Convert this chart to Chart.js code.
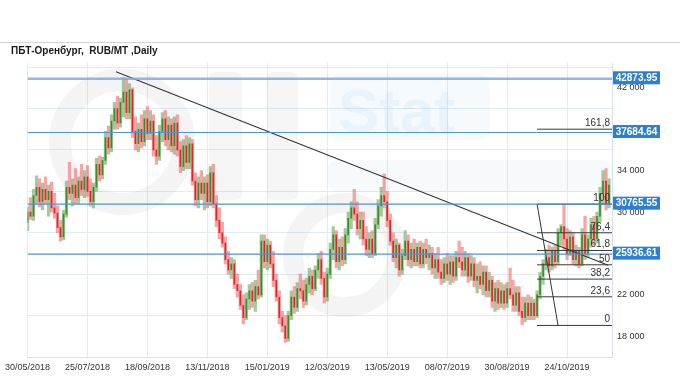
<!DOCTYPE html>
<html><head><meta charset="utf-8">
<script src="https://cdn.jsdelivr.net/npm/chart.js@4.4.1/dist/chart.umd.min.js"></script>
<style>html,body{margin:0;padding:0;background:#fff}#wrap{width:680px;height:380px;position:relative}</style>
</head><body><div id="wrap"><canvas id="c" width="680" height="380"></canvas></div>
<script>
// ---------- data ----------
const chartTitle = 'ПБТ-Оренбург,  RUB/MT ,Daily';
const tickLabels = ['30/05/2018','25/07/2018','18/09/2018','13/11/2018','15/01/2019','12/03/2019','13/05/2019','08/07/2019','30/08/2019','24/10/2019'];
const tickEvery = 20;      // candles between date labels
const lastSlot = 195;      // right edge of the axis, in candle slots
const yMin = 16000, yMax = 44400, yGridStep = 4000, yLabelFirst = 18000;

const openP = [
 29000,30000,29600,31600,32400,31000,32200,31200,32000,30400,
 29900,28500,27600,29800,32400,31800,32600,31400,33000,32200,
 33400,32000,31000,32400,34600,33600,35000,37200,36200,38800,
 40000,38600,40600,41600,39600,41800,37800,36600,38000,36800,
 39000,37600,38800,36000,35400,37800,39000,37000,38400,36400,
 38600,36000,34400,36400,34800,36600,33000,31200,32800,31800,
 32800,31000,33800,30800,29200,28000,27000,25400,24400,25000,
 23000,22400,21000,19800,21600,22400,21400,22800,22000,27200,
 25200,26800,25000,23400,21800,19800,19000,17800,20000,21800,
 20800,22600,22400,21400,23000,23800,22600,24400,25400,23600,
 21800,24000,26400,27800,25200,26600,25400,27800,29400,30400,
 29800,28400,29200,27400,26400,27400,26000,28800,30600,31600,
 31000,29200,27200,25600,26800,24400,25800,27200,25400,26400,
 25200,26600,25000,26400,25600,26000,24600,25400,24200,23600,
 25000,24000,25200,23800,25600,25200,24400,25600,23800,25000,
 23400,23800,23000,24200,22400,23400,21400,22600,21200,22400,
 21200,22600,22000,21000,22200,20400,19800,21200,20000,21200,
 20000,22000,23800,25000,25600,24800,26200,25200,28000,28600,
 27400,26000,27600,25400,26200,25000,27800,26000,27400,28800,
 27400,29600,31800,33000,30800];
const highP = [
 30500,31400,32200,33500,33200,32800,33400,32600,32900,31800,
 30600,29200,30200,33000,34800,33200,34200,33400,34600,34000,
 34500,33200,32800,35200,35400,35300,37800,38300,39400,40600,
 41200,41000,43000,42900,42400,42000,39200,38600,39400,39800,
 40200,39800,39400,37400,38400,39600,39800,39200,39000,39200,
 39400,36800,37000,37400,37200,37000,33800,33400,34000,33400,
 33600,34400,34600,31600,30400,29000,27600,26200,25600,25400,
 24000,23000,22000,22200,23000,23200,23400,24400,27800,27800,
 27400,27200,26200,24000,22400,20400,20000,20400,22400,22800,
 23200,24000,23400,23600,24600,24400,24800,26000,26200,24200,
 24600,27000,28600,28200,27400,27600,28400,30000,31000,32200,
 31000,30000,30000,28600,28000,28200,29400,31200,32400,33700,
 32000,29800,28000,27400,27000,26400,28200,27800,27000,27400,
 27000,27200,27000,27400,26800,26600,26000,26600,25400,25600,
 26000,25800,25800,26200,27200,26600,26200,26000,25800,25600,
 25000,25200,24800,24800,24200,23800,23200,23400,23200,23000,
 23200,24600,23400,22800,22800,21800,21800,22000,21800,21600,
 22400,24200,25400,26400,26800,26600,26800,28400,28800,30700,
 28400,28200,28000,26800,26600,28400,29600,27800,29400,29600,
 30000,32400,34000,34200,33200];
const lowP = [
 28200,29300,29200,30800,30500,30200,30800,29600,30000,29400,
 28000,27200,27300,29500,31200,30600,30800,30800,31600,31400,
 31500,30600,30400,32000,33000,33200,34600,35600,35800,38000,
 38000,38200,39200,39000,39000,37200,36000,35800,36200,36400,
 37000,37000,35400,34600,35000,36800,36400,36000,35800,35600,
 35400,33800,34000,34200,34200,32600,30600,30400,31200,30200,
 30400,30600,30400,28600,27400,26600,25000,24000,23600,22600,
 21800,20600,19200,19600,20600,20800,20400,21600,21800,24600,
 24400,24600,22800,21400,19200,18400,17400,17500,19600,20200,
 20400,21600,20800,21000,22200,22000,22400,23600,23000,21200,
 21400,23600,25400,24600,24400,24800,25000,27000,28400,29200,
 27800,27400,26800,25800,25600,25600,25800,28400,29600,30400,
 28600,26800,25200,24600,23800,24000,25400,24800,24600,24800,
 24800,24600,24600,25000,24400,24000,23600,23600,23000,23200,
 23400,23000,23200,23400,24600,23800,23800,23200,23400,22800,
 22200,22600,22000,21800,21800,20800,20400,20600,20800,20600,
 20800,21600,20400,20400,20000,19100,19400,19600,19600,19600,
 19800,21600,23000,24400,24200,24400,24600,25000,26800,26400,
 25400,25800,25000,24800,24600,24800,25400,25600,26600,26800,
 27000,29000,30800,30200,30400];
const closeP = [
 30000,29600,31600,32400,31000,32200,31200,32000,30400,29900,
 28500,27600,29800,32400,31800,32600,31400,33000,32200,33400,
 32000,31000,32400,34600,33600,35000,37200,36200,38800,40000,
 38600,40600,41600,39600,41800,37800,36600,38000,36800,39000,
 37600,38800,36000,35400,37800,39000,37000,38400,36400,38600,
 36000,34400,36400,34800,36600,33000,31200,32800,31800,32800,
 31000,33800,30800,29200,28000,27000,25400,24400,25000,23000,
 22400,21000,19800,21600,22400,21400,22800,22000,27200,25200,
 26800,25000,23400,21800,19800,19000,17800,20000,21800,20800,
 22600,22400,21400,23000,23800,22600,24400,25400,23600,21800,
 24000,26400,27800,25200,26600,25400,27800,29400,30400,29800,
 28400,29200,27400,26400,27400,26000,28800,30600,31600,31000,
 29200,27200,25600,26800,24400,25800,27200,25400,26400,25200,
 26600,25000,26400,25600,26000,24600,25400,24200,23600,25000,
 24000,25200,23800,25600,25200,24400,25600,23800,25000,23400,
 23800,23000,24200,22400,23400,21400,22600,21200,22400,21200,
 22600,22000,21000,22200,20400,19800,21200,20000,21200,20000,
 22000,23800,25000,25600,24800,26200,25200,28000,28600,27400,
 26000,27600,25400,26200,25000,27800,26000,27400,28800,27400,
 29600,31800,33000,30800,32600];

const priceLines = [42873.95, 37684.64, 30765.55, 25936.61];
const fibRatios = [0, 23.6, 38.2, 50, 61.8, 76.4, 100, 161.8];
const fibLow = 19050, fibHigh = 30765.55;
const fibStartSlot = 170, fibDiagEndSlot = 177;
const trendA = {x: 29.5, y: 43550}, trendB = {x: 193.7, y: 24870};

// ---------- build ----------
const fibLevels = fibRatios.map(r => fibLow + (fibHigh - fibLow) * r / 100);
const fmtRatio = r => String(r).replace('.', ',');
const fmtTick = v => String(v).replace(/\B(?=(\d{3})+(?!\d))/g, ' ');

const up = openP.map((o, i) => closeP[i] >= o);
const rangeData = openP.map((o, i) => ({x: i, y: [lowP[i], highP[i]]}));
const bodyData = openP.map((o, i) => ({x: i, y: [Math.min(o, closeP[i]), Math.max(o, closeP[i])]}));

const lineDs = (pts, color, w, ord) => ({type: 'line', data: pts, borderColor: color, borderWidth: w,
  pointRadius: 0, fill: false, tension: 0, order: ord});

const datasets = [];
priceLines.forEach((v, k) => datasets.push(lineDs([{x: 0, y: v}, {x: lastSlot, y: v}],
  k === 0 ? 'rgba(125,172,226,0.85)' : '#4A93E0', k === 0 ? 2.4 : 1.2, 0)));
fibLevels.forEach(v => datasets.push(lineDs([{x: fibStartSlot, y: v}, {x: lastSlot, y: v}], '#3a3a3a', 1, 0.5)));
datasets.push(lineDs([{x: fibStartSlot, y: fibHigh}, {x: fibDiagEndSlot, y: fibLow}], '#333', 1, 0.5));
datasets.push(lineDs([trendA, trendB], '#333', 1.1, 0.5));
datasets.push({type: 'bar', data: rangeData, grouped: false, barThickness: 2.6, borderWidth: 0, order: 2,
  backgroundColor: up.map(u => u ? 'rgba(100,165,85,0.58)' : 'rgba(242,100,100,0.58)')});
datasets.push({type: 'bar', data: bodyData, grouped: false, barThickness: 1, borderWidth: 0, order: 1,
  backgroundColor: up.map(u => u ? '#3a8c2c' : '#e0262a')});

function rr(ctx, x, y, w, h, r) {
  ctx.beginPath(); ctx.moveTo(x + r, y); ctx.arcTo(x + w, y, x + w, y + h, r); ctx.arcTo(x + w, y + h, x, y + h, r);
  ctx.arcTo(x, y + h, x, y, r); ctx.arcTo(x, y, x + w, y, r); ctx.closePath();
}

const deco = {
  id: 'deco',
  beforeDatasetsDraw(chart) {
    const ctx = chart.ctx, a = chart.chartArea;
    ctx.save();
    ctx.beginPath(); ctx.rect(a.left, a.top, a.right - a.left, a.bottom - a.top); ctx.clip();
    ctx.strokeStyle = 'rgba(0,0,0,0.045)'; ctx.fillStyle = 'rgba(0,0,0,0.04)';
    ctx.lineWidth = 22; ctx.beginPath(); ctx.arc(122, 142, 62, 0, Math.PI * 2); ctx.stroke();
    rr(ctx, 209, 72, 33, 128, 6); ctx.fill();
    rr(ctx, 267, 72, 31, 128, 6); ctx.fill();
    ctx.lineWidth = 20; ctx.beginPath(); ctx.arc(345, 255, 52, 0, Math.PI * 2); ctx.stroke();
    ctx.fillStyle = 'rgba(80,150,215,0.05)';
    rr(ctx, 330, 74, 160, 66, 10); ctx.fill();
    rr(ctx, 328, 160, 284, 32, 10); ctx.fill();
    ctx.fillStyle = 'rgba(80,150,215,0.08)';
    ctx.font = 'bold 62px "Liberation Sans"'; ctx.textBaseline = 'alphabetic'; ctx.textAlign = 'left';
    ctx.fillText('Stat', 338, 132);
    ctx.restore();
  },
  afterDraw(chart) {
    const ctx = chart.ctx, a = chart.chartArea, y = chart.scales.y;
    ctx.save();
    // top rule and title
    ctx.fillStyle = '#d4d4d4'; ctx.fillRect(0, 42, 680, 1);
    ctx.fillStyle = '#1a1a1a'; ctx.font = 'bold 10px "Liberation Sans"';
    ctx.textAlign = 'left'; ctx.textBaseline = 'middle';
    ctx.fillText(chartTitle, 11, 51);
    // fib labels
    ctx.fillStyle = '#333'; ctx.font = '10px "Liberation Sans"';
    ctx.textAlign = 'right'; ctx.textBaseline = 'bottom';
    fibLevels.forEach((v, k) => ctx.fillText(fmtRatio(fibRatios[k]), a.right - 2, y.getPixelForValue(v) - 1));
    // price boxes
    ctx.font = 'bold 10px "Liberation Sans"'; ctx.textAlign = 'center'; ctx.textBaseline = 'middle';
    priceLines.forEach(v => {
      const py = y.getPixelForValue(v) - 1;
      ctx.fillStyle = '#2b7fd4'; ctx.fillRect(a.right + 1, py - 6.5, 47, 13);
      ctx.fillStyle = '#fff'; ctx.fillText(v.toFixed(2), a.right + 24.5, py + 0.5);
    });
    ctx.restore();
  }
};

Chart.defaults.font.family = '"Liberation Sans", Arial, sans-serif';
new Chart(document.getElementById('c'), {
  type: 'bar',
  data: {datasets},
  plugins: [deco],
  options: {
    responsive: false, animation: false, devicePixelRatio: 1,
    layout: {padding: {top: 63, left: 24, right: 0, bottom: 0}},
    plugins: {legend: {display: false}, tooltip: {enabled: false}},
    scales: {
      x: {
        type: 'linear', min: 0, max: lastSlot, offset: false,
        afterFit: s => { s.height = 23; },
        grid: {offset: false, drawTicks: false,
          color: c => (c.tick && c.tick.value % tickEvery === 0) ? '#e3ecf6' : 'rgba(0,0,0,0)'},
        border: {color: '#d5e2ef'},
        ticks: {stepSize: tickEvery, maxTicksLimit: 100, autoSkip: false, maxRotation: 0, minRotation: 0, padding: 5,
          color: '#333', font: {size: 9},
          callback: v => (v % tickEvery === 0 && tickLabels[v / tickEvery]) ? tickLabels[v / tickEvery] : ''}
      },
      y: {
        type: 'linear', position: 'right', min: yMin, max: yMax, beginAtZero: false,
        afterFit: s => { s.width = 68; },
        grid: {drawTicks: false,
          color: c => (c.tick && c.tick.value % yGridStep === 0) ? '#e3ecf6' : 'rgba(0,0,0,0)'},
        border: {color: '#d5e2ef'},
        ticks: {stepSize: 400, maxTicksLimit: 200, autoSkip: false, padding: 5, color: '#333', font: {size: 9},
          callback: v => ((v - yLabelFirst) % yGridStep === 0) ? fmtTick(v) : ''}
      }
    }
  }
});
</script></body></html>
